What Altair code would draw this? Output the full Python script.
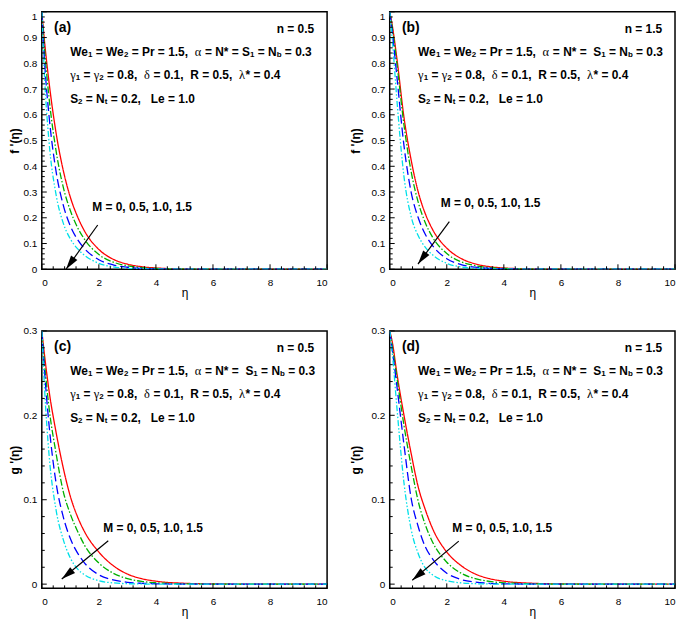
import math
import altair as alt
import pandas as pd

# ---------------- data ----------------
eta = [0, 0.1, 0.25, 0.5, 0.75, 1.0, 1.25, 1.5, 2.0, 2.5, 3.0, 3.5, 4.0, 5.0, 6.0, 8.0, 10.0]
M_labels = ["0", "0.5", "1.0", "1.5"]

# (a) f'(eta), n = 0.5
fa_M0 = [1.0, 0.88, 0.73, 0.53, 0.385, 0.28, 0.205, 0.148, 0.077, 0.039, 0.02, 0.01, 0.005, 0.0013, 0.0004, 0, 0]
fa_M05 = [1.0, 0.85, 0.67, 0.46, 0.32, 0.228, 0.163, 0.116, 0.057, 0.028, 0.0135, 0.0065, 0.003, 0.0008, 0.0002, 0, 0]
fa_M10 = [1.0, 0.80, 0.60, 0.38, 0.25, 0.168, 0.116, 0.08, 0.037, 0.017, 0.0078, 0.0035, 0.0016, 0.0004, 0, 0, 0]
fa_M15 = [1.0, 0.74, 0.50, 0.29, 0.18, 0.118, 0.08, 0.054, 0.023, 0.0095, 0.004, 0.0017, 0.0007, 0.0001, 0, 0, 0]
# (b) f'(eta), n = 1.5
fb_M0 = [1.0, 0.94, 0.82, 0.59, 0.425, 0.30, 0.215, 0.155, 0.082, 0.042, 0.021, 0.01, 0.005, 0.0012, 0.0003, 0, 0]
fb_M05 = [1.0, 0.93, 0.80, 0.56, 0.38, 0.26, 0.18, 0.125, 0.061, 0.029, 0.014, 0.0065, 0.003, 0.0007, 0.0002, 0, 0]
fb_M10 = [1.0, 0.91, 0.75, 0.48, 0.30, 0.20, 0.135, 0.092, 0.041, 0.018, 0.008, 0.0035, 0.0015, 0.0004, 0, 0, 0]
fb_M15 = [1.0, 0.88, 0.66, 0.36, 0.205, 0.13, 0.085, 0.056, 0.023, 0.009, 0.0035, 0.0014, 0.0005, 0, 0, 0, 0]
# (c) g'(eta), n = 0.5
gc_M0 = [0.3, 0.27, 0.23, 0.18, 0.138, 0.104, 0.08, 0.062, 0.038, 0.022, 0.012, 0.0065, 0.0035, 0.001, 0.0003, 0, 0]
gc_M05 = [0.3, 0.26, 0.21, 0.155, 0.11, 0.083, 0.063, 0.046, 0.025, 0.013, 0.0065, 0.0032, 0.0016, 0.0004, 0, 0, 0]
gc_M10 = [0.3, 0.25, 0.19, 0.12, 0.08, 0.054, 0.037, 0.025, 0.011, 0.005, 0.0022, 0.001, 0.0004, 0, 0, 0, 0]
gc_M15 = [0.3, 0.23, 0.155, 0.088, 0.053, 0.031, 0.018, 0.011, 0.004, 0.0015, 0.0005, 0.0002, 0, 0, 0, 0, 0]
# (d) g'(eta), n = 1.5
gd_M0 = [0.3, 0.285, 0.25, 0.2, 0.155, 0.115, 0.088, 0.066, 0.038, 0.022, 0.012, 0.0065, 0.0035, 0.001, 0.0003, 0, 0]
gd_M05 = [0.3, 0.28, 0.245, 0.188, 0.14, 0.098, 0.07, 0.05, 0.026, 0.013, 0.0065, 0.0032, 0.0016, 0.0004, 0, 0, 0]
gd_M10 = [0.3, 0.275, 0.235, 0.165, 0.102, 0.068, 0.044, 0.03, 0.013, 0.0055, 0.0024, 0.001, 0.0004, 0, 0, 0, 0]
gd_M15 = [0.3, 0.27, 0.21, 0.12, 0.065, 0.036, 0.019, 0.011, 0.004, 0.0015, 0.0005, 0.0002, 0, 0, 0, 0, 0]

x_major = [0, 2, 4, 6, 8, 10]
f_major = [0, 0.1, 0.2, 0.3, 0.4, 0.5, 0.6, 0.7, 0.8, 0.9, 1.0]
g_major = [0, 0.1, 0.2, 0.3]

# arrows (tail -> head) in data units
arrow_a = [1.96, 0.172, 0.85, 0.0]
arrow_b = [2.09, 0.185, 0.99, 0.02]
arrow_c = [2.33, 0.0515, 0.70, 0.006]
arrow_d = [2.42, 0.051, 0.79, 0.0046]

# ---------------- styles ----------------
W, H = 287, 259
FONT = "Liberation Sans"
GFONT = "Liberation Serif"
TXT, SUB, GRK, LBL = 12, 8, 12.5, 14
colors = ["#ff0000", "#00b000", "#0000ff", "#00e0e8"]
dashes = [[1, 0], [7, 2, 1.5, 2], [9, 4], [6, 2, 1.5, 2, 1.5, 2]]

AW = {' ': 278, '=': 584, '.': 278, ',': 278, '*': 389, '(': 333, ')': 333,
      'W': 944, 'e': 556, 'P': 667, 'r': 389, 'N': 722, 'S': 667, 'R': 722,
      'L': 611, 'M': 833, 'b': 611, 't': 333, 'n': 611, 'a': 556, 'c': 556, 'd': 611}
GW = {'α': 0.56, 'γ': 0.45, 'δ': 0.5, 'λ': 0.53}


def cw(ch, kind):
    if kind == 'g':
        return GW.get(ch, 0.5) * GRK
    size = SUB if kind == 's' else TXT
    return AW.get(ch, 556) * size / 1000.0


def place(segs, x0, y0, rows):
    x = x0
    for s, kind in segs:
        buf, start = '', x
        for ch in s:
            if ch == ' ':
                if buf:
                    rows.append(dict(px=start, py=y0, text=buf, kind=kind))
                    buf = ''
                x += cw(ch, kind)
            else:
                if not buf:
                    start = x
                buf += ch
                x += cw(ch, kind)
        if buf:
            rows.append(dict(px=start, py=y0, text=buf, kind=kind))


def panel(tag, n_txt, series, ylab, ymin, ymax, ymajor, arrow, mpos, line1_mid, title_x, flush_top):
    xs = alt.Scale(domain=[0, 10], nice=False, zero=False)
    ys = alt.Scale(domain=[ymin, ymax], nice=False, zero=False)

    def to_data(px, py):
        return px / W * 10, ymax - py / H * (ymax - ymin)

    recs = []
    for m, vals in zip(M_labels, series):
        for e, v in zip(eta, vals):
            recs.append(dict(x=e, y=v, M=m))
    df = pd.DataFrame(recs)

    xaxis = alt.Axis(values=x_major, format='d', ticks=False, domain=False, grid=False,
                     labelPadding=8, labelFont=FONT, labelFontSize=10, labelColor='black',
                     title='η', titleFont=FONT, titleFontSize=12, titleFontWeight='normal',
                     titleColor='black', titlePadding=0)
    ykw = {}
    if flush_top:
        ykw['labelBaseline'] = {"condition": {"test": "datum.value >= 0.999", "value": "top"},
                                "value": "middle"}
    yaxis = alt.Axis(values=ymajor, format='.1~f', ticks=False, domain=False, grid=False,
                     labelPadding=5, labelFont=FONT, labelFontSize=10, labelColor='black',
                     title=ylab, titleFont=FONT, titleFontSize=12, titleFontWeight='bold',
                     titleColor='black', titleX=title_x, titleY=H / 2,
                     titleBaseline='middle', titleAlign='center', **ykw)

    def X(field='x'):
        return alt.X(f'{field}:Q', scale=xs, axis=xaxis)

    def Y(field='y'):
        return alt.Y(f'{field}:Q', scale=ys, axis=yaxis)

    lines = alt.Chart(df).mark_line(strokeWidth=1.3, interpolate='monotone', clip=True).encode(
        x=X(), y=Y(),
        color=alt.Color('M:N', scale=alt.Scale(domain=M_labels, range=colors), legend=None),
        strokeDash=alt.StrokeDash('M:N', scale=alt.Scale(domain=M_labels, range=dashes), legend=None),
    )

    x_minor = [round(v * 0.4, 2) for v in range(1, 25) if round(v * 0.4, 2) not in x_major]
    y_minor = [round(ymajor[0] + k * 0.02, 3) for k in range(1, int(round((ymajor[-1] - ymajor[0]) / 0.02)))]
    y_minor = [v for v in y_minor if min(abs(v - t) for t in ymajor) > 1e-6]

    def xt(vals, ln):
        return alt.Chart(pd.DataFrame({'x': vals})).mark_rule(color='black', strokeWidth=1).encode(
            x=X(), y=alt.value(H), y2=alt.value(H - ln))

    def yt(vals, ln):
        return alt.Chart(pd.DataFrame({'y': vals})).mark_rule(color='black', strokeWidth=1).encode(
            y=Y(), x=alt.value(0), x2=alt.value(ln))

    tx, ty, hx, hy = arrow
    adf = pd.DataFrame([dict(x=tx, y=ty, x2=hx, y2=hy)])
    shaft = alt.Chart(adf).mark_rule(color='black', strokeWidth=1.2).encode(
        x=X(), y=Y(), x2='x2:Q', y2='y2:Q')
    dxp = (hx - tx) / 10 * W
    dyp = -(hy - ty) / (ymax - ymin) * H
    L = math.hypot(dxp, dyp)
    ang = math.degrees(math.atan2(dxp / L, -dyp / L)) % 360
    head = alt.Chart(pd.DataFrame([dict(x=hx, y=hy)])).mark_point(
        shape='M0,0L0.55,2L-0.55,2Z', filled=True, size=200, color='black', opacity=1,
        strokeWidth=0, angle=ang).encode(x=X(), y=Y())

    rows = []
    place([(tag, 'L')], 12.3, 16.5, rows)
    rows.append(dict(px=274, py=17, text=n_txt, kind='n'))
    place([("We", 'b'), ("1", 's'), (" = We", 'b'), ("2", 's'), (" = Pr = 1.5,  ", 'b'),
           ("α", 'g'), (line1_mid, 'b'), ("1", 's'), (" = N", 'b'), ("b", 's'), (" = 0.3", 'b')],
          28.5, 40.5, rows)
    place([("γ", 'g'), ("1", 's'), (" = ", 'b'), ("γ", 'g'), ("2", 's'), (" = 0.8,  ", 'b'),
           ("δ", 'g'), (" = 0.1,  R = 0.5,  ", 'b'), ("λ", 'g'), ("* = 0.4", 'b')],
          28.5, 64, rows)
    place([("S", 'b'), ("2", 's'), (" = N", 'b'), ("t", 's'), (" = 0.2,   Le = 1.0", 'b')],
          28.5, 87.5, rows)
    place([("M = 0, 0.5, 1.0, 1.5", 'b')], mpos[0], mpos[1], rows)
    for r in rows:
        r['x'], r['y'] = to_data(r['px'], r['py'])
    tdf = pd.DataFrame(rows)

    def tlayer(kind, **kw):
        return alt.Chart(tdf[tdf.kind == kind]).mark_text(color='black', baseline='middle', **kw).encode(
            x=X(), y=Y(), text='text:N')

    texts = [
        tlayer('b', font=FONT, fontSize=TXT, fontWeight='bold', align='left'),
        tlayer('s', font=FONT, fontSize=SUB, fontWeight='bold', align='left', dy=3),
        tlayer('g', font=GFONT, fontSize=GRK, fontWeight='normal', align='left'),
        tlayer('L', font=FONT, fontSize=LBL, fontWeight='bold', align='left'),
        tlayer('n', font=FONT, fontSize=TXT, fontWeight='bold', align='right'),
    ]

    return alt.layer(lines, xt(x_major, 5), xt(x_minor, 3), yt(ymajor, 5), yt(y_minor, 3),
                     shaft, head, *texts).properties(width=W, height=H)


pa = panel("(a)", "n = 0.5", [fa_M0, fa_M05, fa_M10, fa_M15], "f '(η)", 0, 1, f_major,
           arrow_a, (50.7, 196.5), " = N* = S", -27, True)
pb = panel("(b)", "n = 1.5", [fb_M0, fb_M05, fb_M10, fb_M15], "f '(η)", 0, 1, f_major,
           arrow_b, (51.3, 192), " = N* =  S", -34, True)
pc = panel("(c)", "n = 0.5", [gc_M0, gc_M05, gc_M10, gc_M15], "g '(η)", -0.005, 0.3, g_major,
           arrow_c, (61.7, 198), " = N* =  S", -27, False)
pd_ = panel("(d)", "n = 1.5", [gd_M0, gd_M05, gd_M10, gd_M15], "g '(η)", -0.005, 0.3, g_major,
            arrow_d, (63, 198), " = N* =  S", -34, False)

chart = alt.vconcat(
    alt.hconcat(pa, pb, spacing=20),
    alt.hconcat(pc, pd_, spacing=20),
    spacing=26,
).properties(
    padding={"left": 0, "top": 0, "right": 0, "bottom": 0},
    background='white',
).configure_view(stroke='black', strokeWidth=1.5)

chart.save("out.html", embed_options={"renderer": "svg", "actions": False})
